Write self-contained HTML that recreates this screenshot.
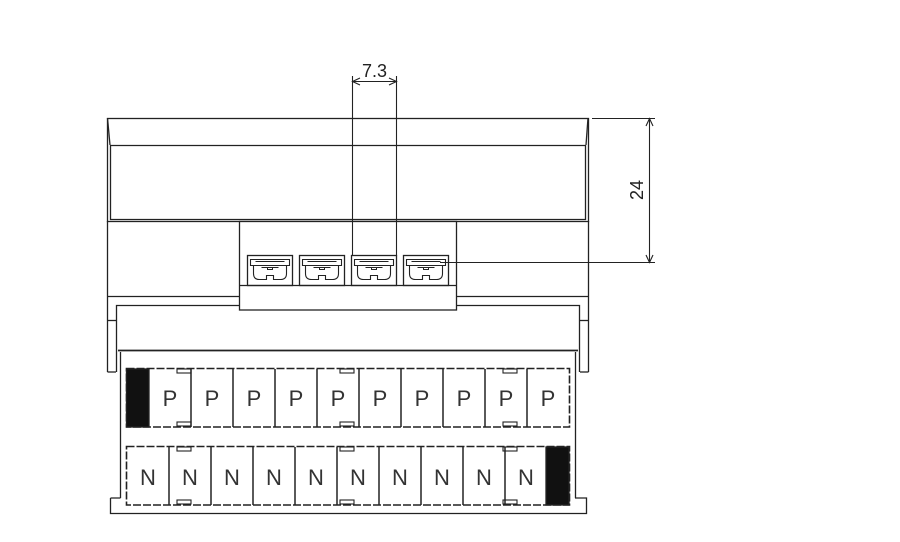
<!DOCTYPE html>
<html><head><style>body{margin:0;background:#fff}svg{display:block}</style></head><body>
<svg width="900" height="542" viewBox="0 0 900 542" xmlns="http://www.w3.org/2000/svg" fill="none" stroke="#222" stroke-width="1.3" font-family="Liberation Sans, DejaVu Sans, sans-serif">
<defs>
<g id="term">
<rect x="0" y="0" width="45" height="30"/>
<path d="M3 4 h39 v6 h-39z M6 10 v8 q0 6 6 6 h7 v-4 h7 v4 h7 q6 0 6 -6 v-8" stroke-width="1.1"/>
<path d="M8 6 h29 M14 12 h17 M20 12 v2 h5 v-2" stroke-width="1"/>
</g>
<g id="clip"><rect x="0" y="0" width="14" height="4" stroke-width="1.1"/></g>
</defs>
<rect x="107.5" y="118.5" width="481" height="103"/>
<line x1="110" y1="145.5" x2="586" y2="145.5"/>
<line x1="110" y1="219.5" x2="586" y2="219.5"/>
<line x1="107.5" y1="118" x2="110" y2="145"/><line x1="588" y1="118" x2="586" y2="145"/>
<line x1="110.5" y1="145" x2="110.5" y2="220"/><line x1="585.5" y1="145" x2="585.5" y2="220"/>
<line x1="107.5" y1="221" x2="107.5" y2="372"/><line x1="588.5" y1="221" x2="588.5" y2="372"/>
<line x1="107" y1="296.5" x2="239" y2="296.5"/><line x1="456" y1="296.5" x2="588" y2="296.5"/>
<line x1="107.5" y1="372" x2="116" y2="372"/><line x1="580" y1="372" x2="588.5" y2="372"/>
<line x1="107" y1="320.5" x2="116" y2="320.5"/><line x1="580" y1="320.5" x2="588" y2="320.5"/>
<rect x="239.5" y="221.5" width="217" height="88.5" fill="#fff"/>
<line x1="239.5" y1="285.5" x2="456.5" y2="285.5"/>
<use href="#term" x="247.5" y="255.5"/>
<use href="#term" x="299.5" y="255.5"/>
<use href="#term" x="351.5" y="255.5"/>
<use href="#term" x="403.5" y="255.5"/>
<path d="M116.5 372 V305.5 H239.5 M456.5 305.5 H579.5 V372"/>
<line x1="118" y1="350.5" x2="578" y2="350.5" stroke-width="1.8"/>
<path d="M120.5 352 V498 M575.5 352 V498"/>
<path d="M110.5 498 V513.5 H586.5 V498 H575 M110.5 498 H120.5"/>
<rect x="126.5" y="368.5" width="443" height="58.5" stroke-dasharray="8 2" stroke-width="1.6"/>
<rect x="126.5" y="369" width="22.5" height="58" fill="#111"/>
<g stroke-width="1.5">
<line x1="191" y1="369" x2="191" y2="427"/><line x1="233" y1="369" x2="233" y2="427"/><line x1="275" y1="369" x2="275" y2="427"/><line x1="317" y1="369" x2="317" y2="427"/><line x1="359" y1="369" x2="359" y2="427"/><line x1="401" y1="369" x2="401" y2="427"/><line x1="443" y1="369" x2="443" y2="427"/><line x1="485" y1="369" x2="485" y2="427"/><line x1="527" y1="369" x2="527" y2="427"/>
</g>
<use href="#clip" x="177" y="369"/><use href="#clip" x="177" y="422"/>
<use href="#clip" x="340" y="369"/><use href="#clip" x="340" y="422"/>
<use href="#clip" x="503" y="369"/><use href="#clip" x="503" y="422"/>
<g fill="#333" stroke="none" font-size="22" text-anchor="middle">
<text x="170" y="406">P</text><text x="212" y="406">P</text><text x="254" y="406">P</text><text x="296" y="406">P</text><text x="338" y="406">P</text><text x="380" y="406">P</text><text x="422" y="406">P</text><text x="464" y="406">P</text><text x="506" y="406">P</text><text x="548" y="406">P</text>
</g>
<rect x="126.5" y="446.5" width="443" height="58.5" stroke-dasharray="8 2" stroke-width="1.6"/>
<rect x="546" y="447" width="23" height="58" fill="#111"/>
<g stroke-width="1.5">
<line x1="169" y1="447" x2="169" y2="505"/><line x1="211" y1="447" x2="211" y2="505"/><line x1="253" y1="447" x2="253" y2="505"/><line x1="295" y1="447" x2="295" y2="505"/><line x1="337" y1="447" x2="337" y2="505"/><line x1="379" y1="447" x2="379" y2="505"/><line x1="421" y1="447" x2="421" y2="505"/><line x1="463" y1="447" x2="463" y2="505"/><line x1="505" y1="447" x2="505" y2="505"/>
</g>
<use href="#clip" x="177" y="447"/><use href="#clip" x="177" y="500"/>
<use href="#clip" x="340" y="447"/><use href="#clip" x="340" y="500"/>
<use href="#clip" x="503" y="447"/><use href="#clip" x="503" y="500"/>
<g fill="#333" stroke="none" font-size="22" text-anchor="middle">
<text x="148" y="485">N</text><text x="190" y="485">N</text><text x="232" y="485">N</text><text x="274" y="485">N</text><text x="316" y="485">N</text><text x="358" y="485">N</text><text x="400" y="485">N</text><text x="442" y="485">N</text><text x="484" y="485">N</text><text x="526" y="485">N</text>
</g>
<g stroke-width="1.1">
<line x1="352.5" y1="76" x2="352.5" y2="256"/><line x1="396.5" y1="76" x2="396.5" y2="256"/>
<line x1="352" y1="81.5" x2="397" y2="81.5"/>
<path d="M360 78 L352.5 81.5 L360 85 M389 78 L396.5 81.5 L389 85"/>
</g>
<text x="374.5" y="77" font-size="18" fill="#222" stroke="none" text-anchor="middle">7.3</text>
<g stroke-width="1.1">
<line x1="592" y1="118.5" x2="655" y2="118.5"/>
<line x1="440" y1="262.5" x2="655" y2="262.5"/>
<line x1="649.5" y1="118" x2="649.5" y2="262"/>
<path d="M646 126 L649.5 118.5 L653 126 M646 255 L649.5 262.5 L653 255"/>
</g>
<text transform="translate(643 190) rotate(-90)" font-size="18" fill="#222" stroke="none" text-anchor="middle">24</text>
</svg>
</body></html>
